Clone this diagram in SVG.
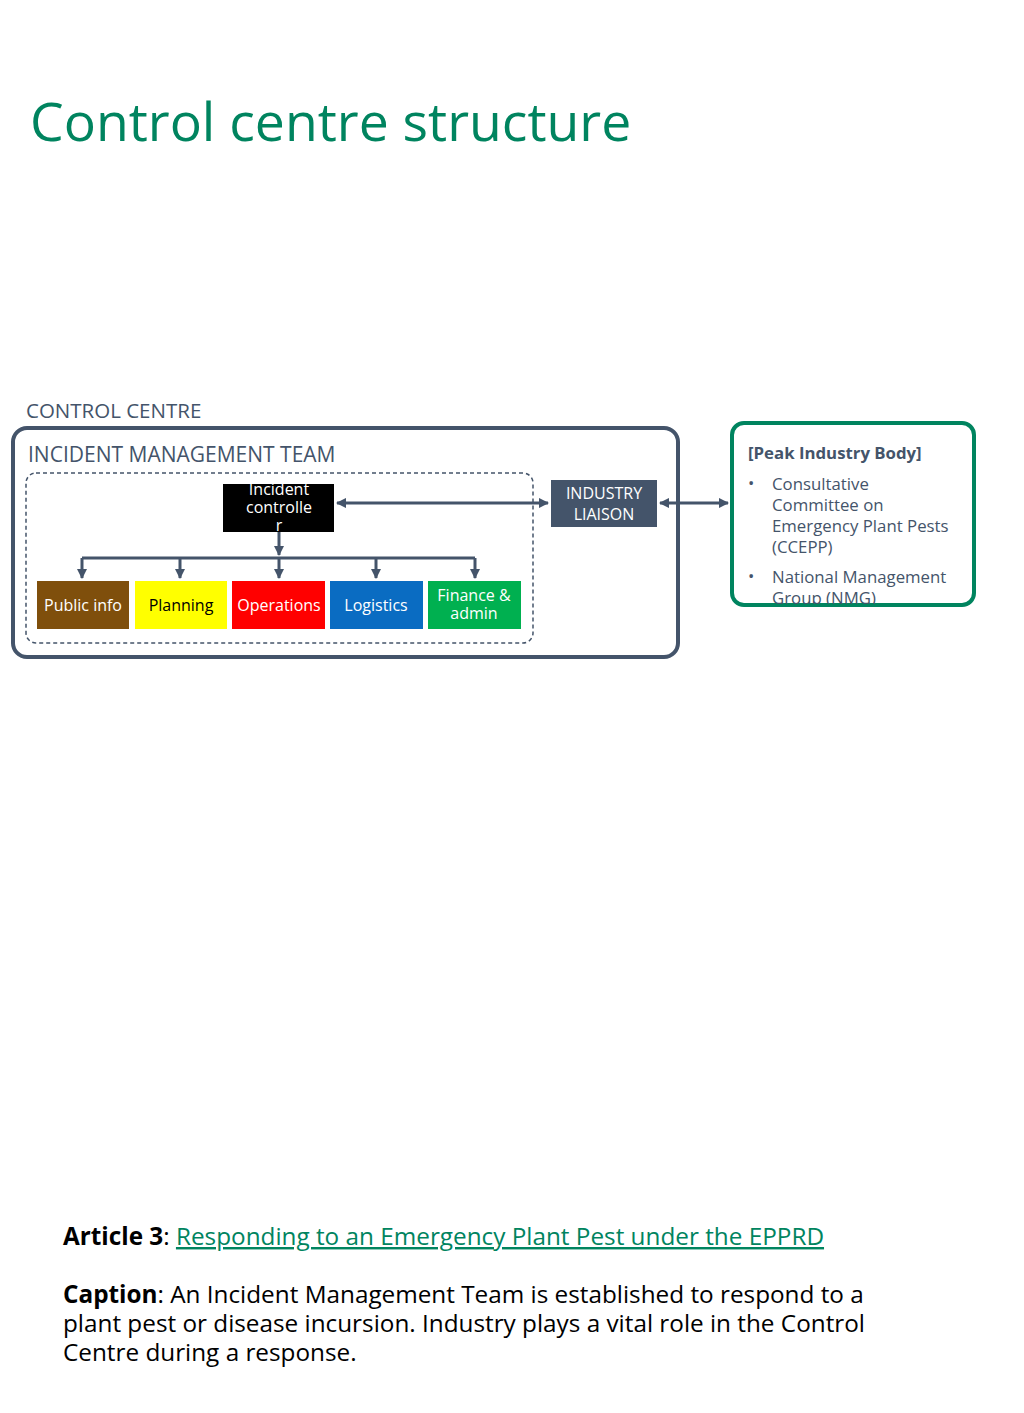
<svg xmlns="http://www.w3.org/2000/svg" width="1024" height="1413" viewBox="0 0 1024 1413">
<defs>
<style>
text{font-family:"Open Sans","Noto Sans",sans-serif}
.conn{stroke:#44546a;stroke-width:3;fill:none}
.lbl{font-size:16px;text-anchor:middle}
.gray{fill:#44546a}
</style>
<marker id="ah" viewBox="0 0 10 10" refX="9" refY="5" markerWidth="3.5" markerHeight="3.5" orient="auto-start-reverse"><path d="M0,0L10,5L0,10z" fill="#44546a"/></marker>
<clipPath id="pc"><rect x="733" y="424" width="240" height="180"/></clipPath>
</defs>
<rect width="1024" height="1413" fill="#fff"/>
<text x="30" y="141" font-size="53.5" fill="#00845f">Control centre structure</text>
<text x="26" y="418" font-size="20.5" class="gray">CONTROL CENTRE</text>
<g id="control-centre"><rect x="13" y="428" width="665" height="229" rx="14" fill="#fff" stroke="#44546a" stroke-width="4"/>
<text x="28" y="462" font-size="21" class="gray">INCIDENT MANAGEMENT TEAM</text>
<rect x="26" y="473" width="507" height="170" rx="10" fill="none" stroke="#44546a" stroke-width="1.5" stroke-dasharray="4,3"/></g>
<g id="incident-controller"><rect x="223" y="484" width="111" height="48" fill="#000"/>
<text class="lbl" fill="#fff"><tspan x="279" y="495">Incident</tspan><tspan x="279" y="513">controlle</tspan><tspan x="279" y="531">r</tspan></text></g>
<g id="public-info"><rect x="37" y="581" width="92" height="48" fill="#7f4f0c"/><text class="lbl" x="83" y="611" fill="#fff">Public info</text></g>
<g id="planning"><rect x="135" y="581" width="92" height="48" fill="#ffff00"/><text class="lbl" x="181" y="611" fill="#000">Planning</text></g>
<g id="operations"><rect x="232" y="581" width="93" height="48" fill="#ff0000"/><text class="lbl" x="279" y="611" fill="#fff">Operations</text></g>
<g id="logistics"><rect x="330" y="581" width="93" height="48" fill="#0a6cc2"/><text class="lbl" x="376" y="611" fill="#fff">Logistics</text></g>
<g id="finance"><rect x="428" y="581" width="93" height="48" fill="#00b050"/><text class="lbl" fill="#fff"><tspan x="474" y="601">Finance &amp;</tspan><tspan x="474" y="619">admin</tspan></text></g>
<g id="industry-liaison"><rect x="551" y="480" width="106" height="47" fill="#44546a"/><text class="lbl" fill="#fff"><tspan x="604" y="499">INDUSTRY</tspan><tspan x="604" y="520">LIAISON</tspan></text></g>
<g id="peak-body"><rect x="732" y="423" width="242" height="182" rx="12" fill="#fff" stroke="#00845f" stroke-width="4"/>
<g clip-path="url(#pc)" font-size="16.8" class="gray">
<text x="748" y="459" font-weight="bold">[Peak Industry Body]</text>
<text x="748" y="489">•</text>
<text><tspan x="772" y="490">Consultative</tspan><tspan x="772" y="511">Committee on</tspan><tspan x="772" y="532">Emergency Plant Pests</tspan><tspan x="772" y="553">(CCEPP)</tspan></text>
<text x="748" y="582">•</text>
<text><tspan x="772" y="583">National Management</tspan><tspan x="772" y="604">Group (NMG)</tspan></text>
</g></g>
<g id="connectors">
<path class="conn" d="M337,503H548" marker-start="url(#ah)" marker-end="url(#ah)"/>
<path class="conn" d="M660,503H728" marker-start="url(#ah)" marker-end="url(#ah)"/>
<path class="conn" d="M279,532V555"  marker-end="url(#ah)"/>
<path class="conn" d="M82,558H475"/>
<path class="conn" d="M82,558V578" marker-end="url(#ah)"/>
<path class="conn" d="M180,558V578" marker-end="url(#ah)"/>
<path class="conn" d="M279,558V578" marker-end="url(#ah)"/>
<path class="conn" d="M376,558V578" marker-end="url(#ah)"/>
<path class="conn" d="M475,558V578" marker-end="url(#ah)"/>
</g>
<text x="63" y="1245" font-size="24.3" fill="#000"><tspan font-weight="bold">Article 3</tspan>: <tspan fill="#00845f" text-decoration="underline">Responding to an Emergency Plant Pest under the EPPRD</tspan></text>
<text font-size="24.3" fill="#000"><tspan x="63" y="1303"><tspan font-weight="bold">Caption</tspan>: An Incident Management Team is established to respond to a</tspan><tspan x="63" y="1332">plant pest or disease incursion. Industry plays a vital role in the Control</tspan><tspan x="63" y="1361">Centre during a response.</tspan></text>
</svg>
